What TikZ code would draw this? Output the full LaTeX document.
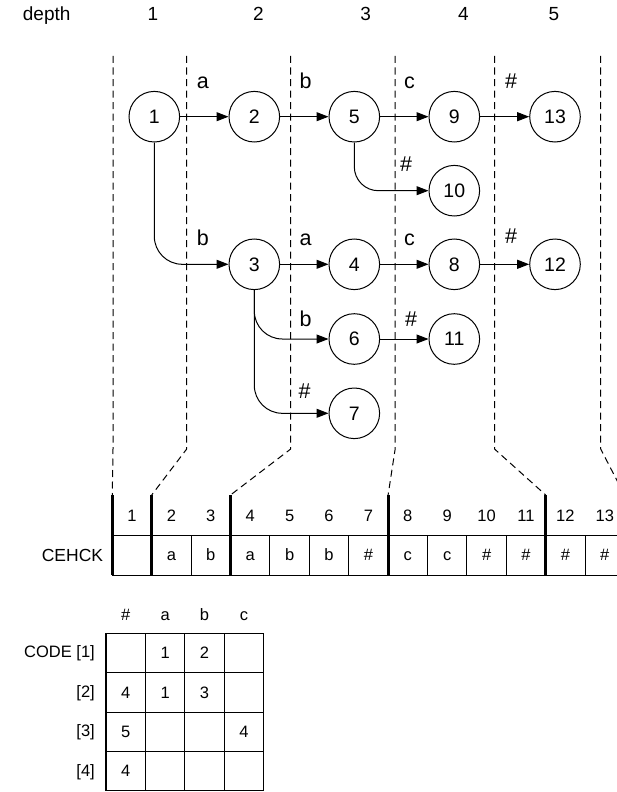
\documentclass[tikz,border=0pt]{standalone}
\usepackage{fontspec}
\setmainfont{Liberation Sans}
\usetikzlibrary{arrows.meta}

\begin{document}
\begin{tikzpicture}[x=1pt, y=-1pt,
  state/.style={circle, draw, line width=1pt, minimum size=50.6pt, inner sep=0pt,
                font=\fontsize{19.5}{22}\selectfont},
  arr/.style={-{Triangle[length=12pt,width=9pt]}, line width=1pt},
  lbl/.style={anchor=base west, inner sep=0pt, font=\fontsize{21.5}{24}\selectfont},
  hdr/.style={inner sep=0pt, font=\fontsize{19}{22}\selectfont},
  guide/.style={dash pattern=on 7pt off 4.5pt, line width=1pt},
  bar/.style={line width=2.8pt},
  acell/.style={draw, line width=1pt, minimum size=39.4pt, inner sep=0pt,
                text height=10.7pt, text depth=0pt, font=\fontsize{16.5}{19}\selectfont},
  aidx/.style={inner sep=0pt, font=\fontsize{16.5}{19}\selectfont},
  tcell/.style={draw, line width=1.1pt, minimum size=39.4pt, inner sep=0pt,
                text height=11.5pt, text depth=0pt, font=\fontsize{16.5}{19}\selectfont},
  tlbl/.style={inner sep=0pt, font=\fontsize{16.5}{19}\selectfont}]

\useasboundingbox (0,0) rectangle (616,792);

% depth header
\node[hdr, anchor=base west] (depth) at (22.7,21) {depth};
\foreach \d/\x in {1/153,2/258.3,3/365.7,4/463.3,5/554}
  \node[hdr, anchor=base] (d\d) at (\x,21) {\d};

% trie states
\node[state] (n1)  at (154.3,116.7) {1};
\node[state] (n2)  at (254.3,116.7) {2};
\node[state] (n5)  at (354.3,116.7) {5};
\node[state] (n9)  at (454.3,116.7) {9};
\node[state] (n13) at (555,116.7)   {13};
\node[state] (n10) at (454.3,190.7) {10};
\node[state] (n3)  at (254.3,264.3) {3};
\node[state] (n4)  at (354.3,264.3) {4};
\node[state] (n8)  at (454.3,264.3) {8};
\node[state] (n12) at (555,264.3)   {12};
\node[state] (n6)  at (354.3,339)   {6};
\node[state] (n11) at (454.3,339)   {11};
\node[state] (n7)  at (354.3,413.3) {7};

% transitions
\draw[arr] (n1) -- (n2);
\draw[arr] (n2) -- (n5);
\draw[arr] (n5) -- (n9);
\draw[arr] (n9) -- (n13);
\draw[arr] (n3) -- (n4);
\draw[arr] (n4) -- (n8);
\draw[arr] (n8) -- (n12);
\draw[arr] (n6) -- (n11);
\draw[arr, rounded corners=28pt] (n1.south) |- (n3.west);
\draw[arr, rounded corners=24pt] (n5.south) |- (n10.west);
\draw[arr, rounded corners=28pt] (n3.south) |- (n6.west);
\draw[arr, rounded corners=28pt] (n3.south) |- (n7.west);

% transition labels
\node[lbl] (la1) at (196.7,88.3) {a};
\node[lbl] (la2) at (299.3,88.3) {b};
\node[lbl] (la3) at (404,88.3)   {c};
\node[lbl] (la4) at (505,88.3)   {\#};
\node[lbl] (la5) at (400,171.7)  {\#};
\node[lbl] (lb1) at (196.7,245)  {b};
\node[lbl] (lb2) at (299.3,245)  {a};
\node[lbl] (lb3) at (404,245)    {c};
\node[lbl] (lb4) at (505,243)    {\#};
\node[lbl] (lc1) at (299.3,326.7) {b};
\node[lbl] (lc2) at (405,326.7)   {\#};
\node[lbl] (lc3) at (298.3,398.3) {\#};

% CHECK array cells
\foreach \k/\t in {1/{},2/a,3/b,4/a,5/b,6/b,7/\#,8/c,9/c,10/\#,11/\#,12/\#,13/\#} {
  \node[acell] (c\k) at ({112.3+39.4*(\k-0.5)},555.4) {\t};
  \node[aidx] (i\k) at ({112.3+39.4*(\k-0.5)},516) {\k};
}
\node[inner sep=0pt, anchor=east, font=\fontsize{17.5}{20}\selectfont] (chk) at (103.3,555.4) {CEHCK};

% depth boundaries in the array
\foreach \j/\k in {0/0,1/1,2/3,3/7,4/11,5/13}
  \coordinate (b\j) at ({112.3+39.4*\k},495);
\foreach \j in {0,...,5}
  \draw[bar] (b\j) -- ++(0,80);

% guides from the depth columns down to the array
\draw[guide] (113,56) -- (113,449) -- (b0);
\draw[guide] (186.7,56) -- (186.7,449) -- (b1);
\draw[guide] (290.7,56) -- (290.7,449) -- (b2);
\draw[guide] (395,56) -- (395,450) -- (b3);
\draw[guide] (494.5,56) -- (494.5,449) -- (b4);
\draw[guide] (600.7,56) -- (600.7,449) -- (b5);

% CODE table
\foreach \h [count=\ci] in {\#,a,b,c}
  \node[tlbl, anchor=base] (h\ci) at ({106+39.4*(\ci-0.5)},620) {\h};
\foreach \r/\y/\lab in {1/657.8/{CODE [1]},2/697.2/{[2]},3/736.6/{[3]},4/776/{[4]}}
  \node[tlbl, anchor=base east] (r\r) at (95,\y) {\lab};
\foreach \r/\va/\vb/\vc/\vd in {1/{}/1/2/{},2/4/1/3/{},3/5/{}/{}/4,4/4/{}/{}/{}} {
  \foreach \v [count=\ci] in {\va,\vb,\vc,\vd}
    \node[tcell] (t\r-\ci) at ({106+39.4*(\ci-0.5)},{633.3+39.4*(\r-0.5)}) {\v};
}

\end{tikzpicture}
\end{document}
